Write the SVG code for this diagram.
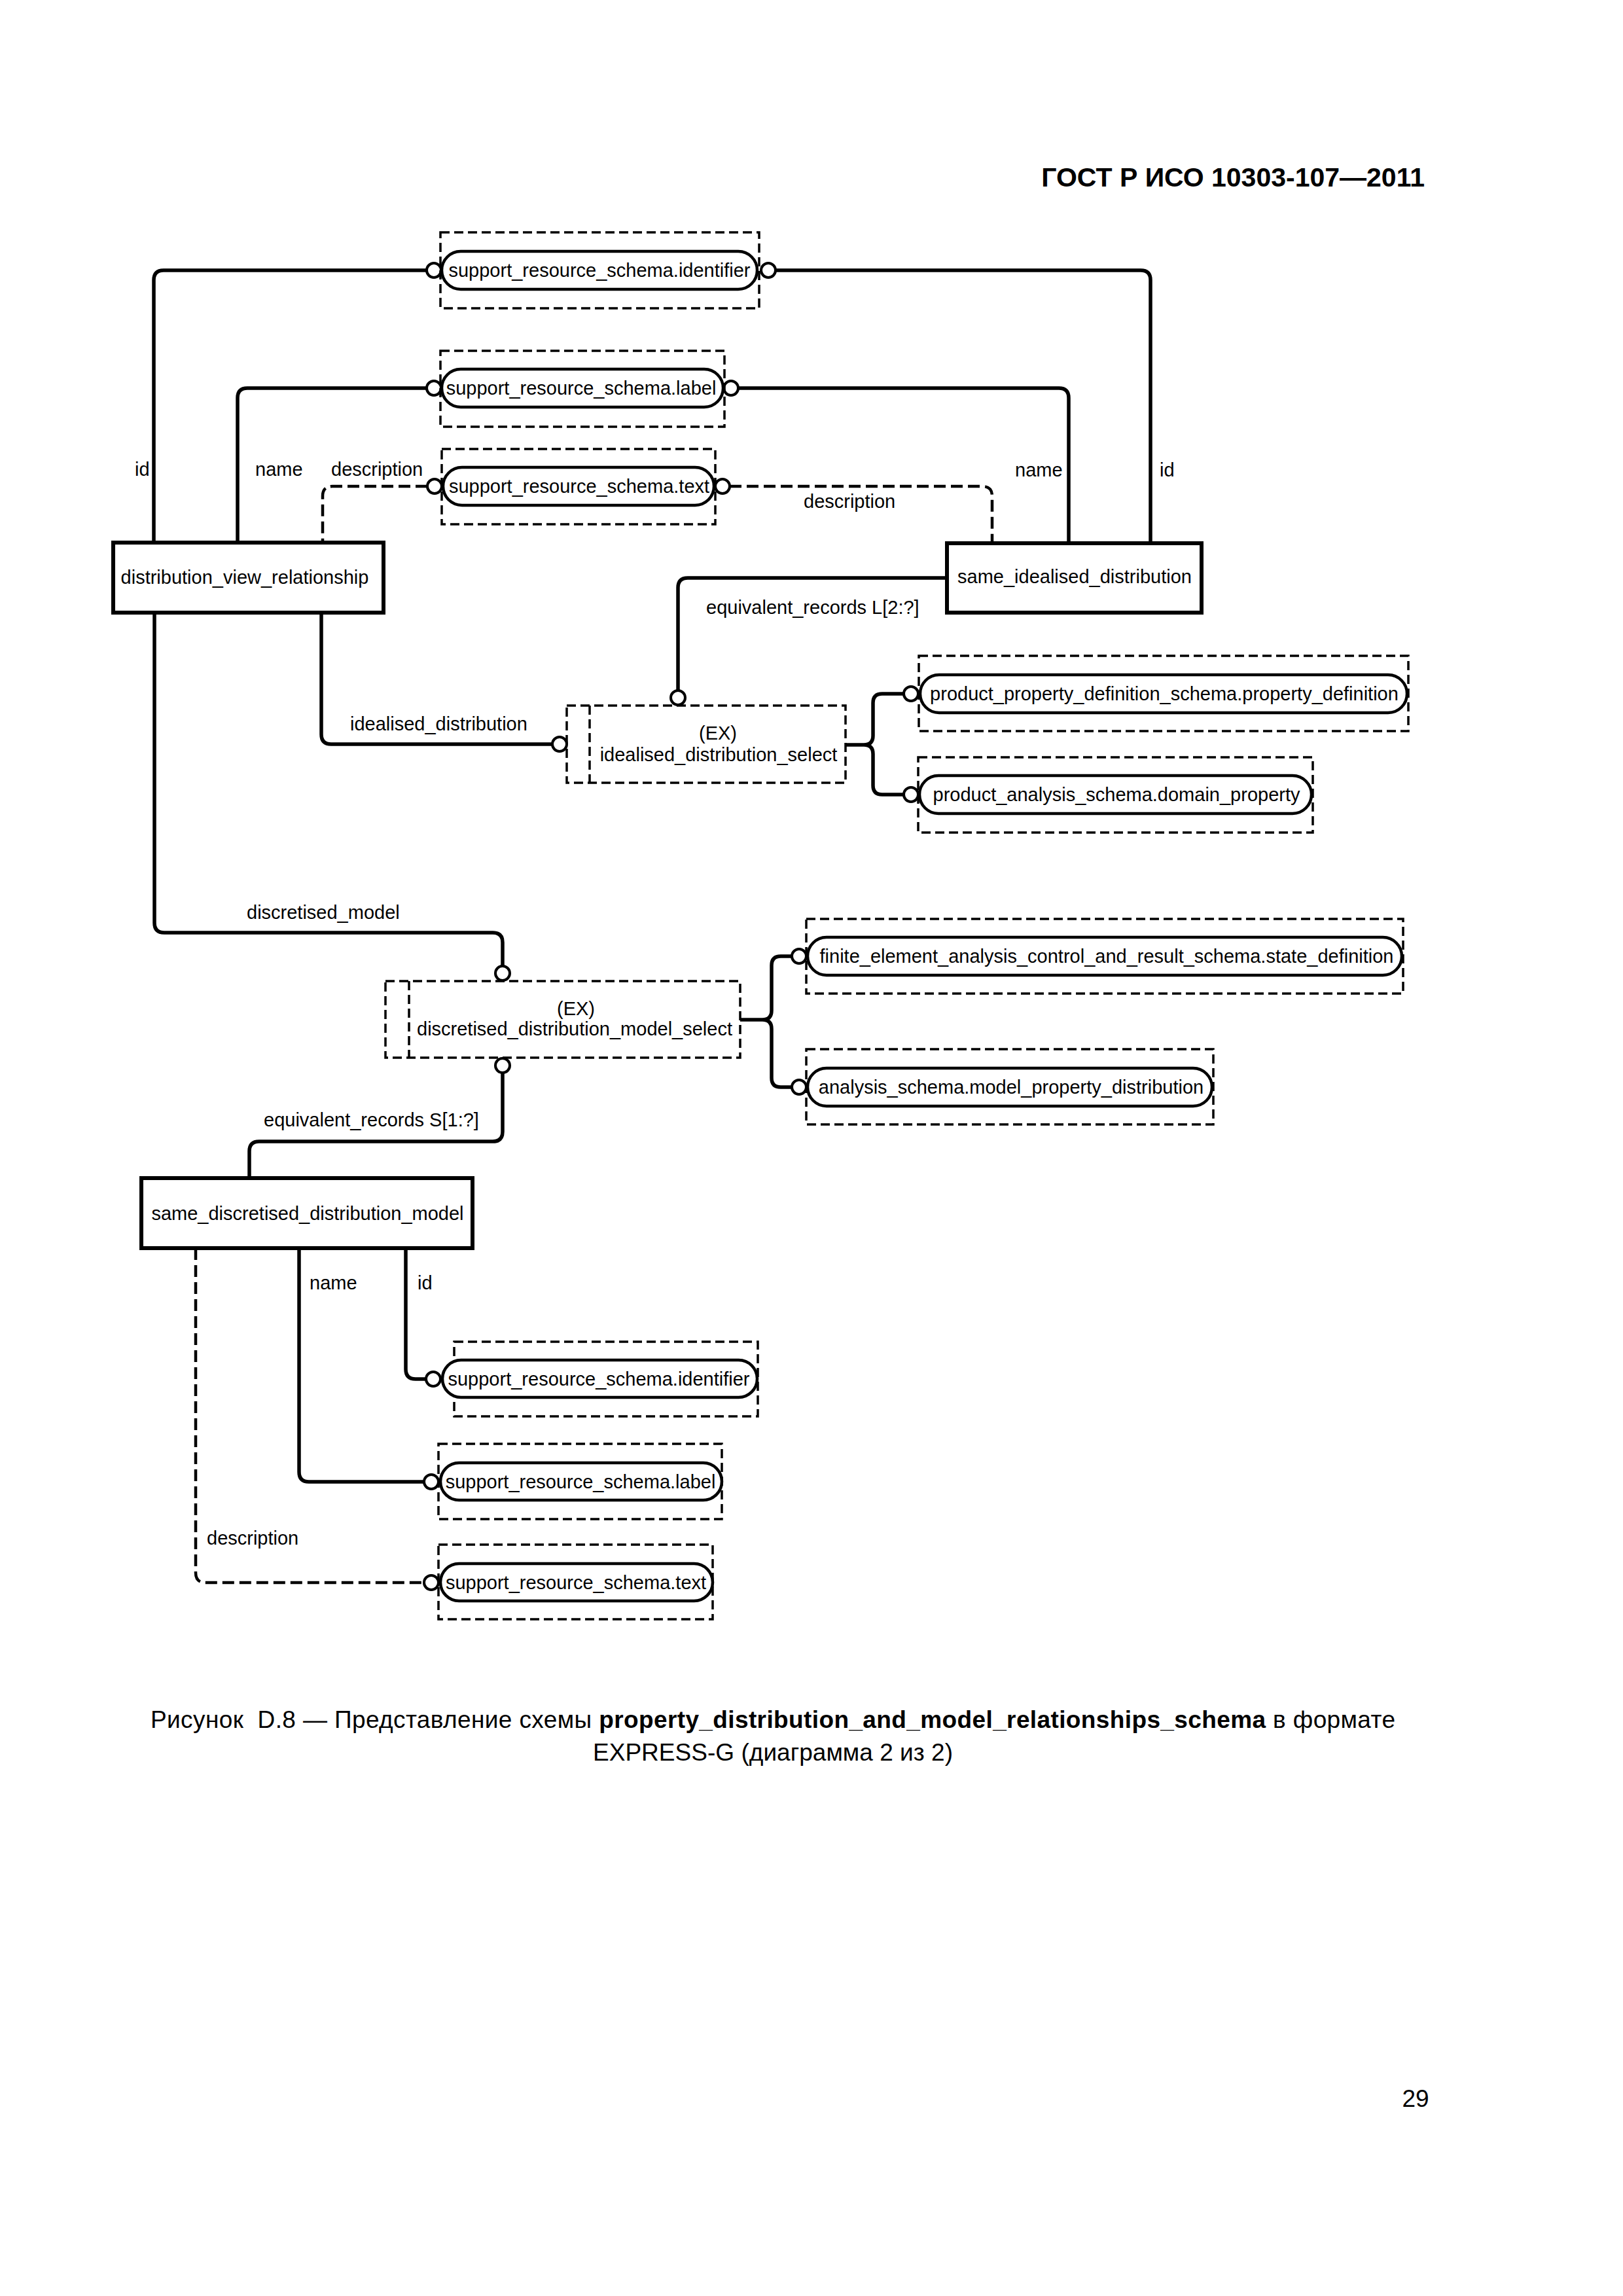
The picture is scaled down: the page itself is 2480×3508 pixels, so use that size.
<svg xmlns="http://www.w3.org/2000/svg" width="2480" height="3508" viewBox="0 0 2480 3508">
<style>
text{font-family:"Liberation Sans",Arial,sans-serif;fill:#000}
.t{font-size:29px}
.m{text-anchor:middle}
.ent{fill:#fff;stroke:#000;stroke-width:6}
.pill{fill:#fff;stroke:#000;stroke-width:4.5}
.dbox{fill:none;stroke:#000;stroke-width:3.5;stroke-dasharray:14 7}
.c{fill:none;stroke:#000;stroke-width:5.5}
.cd{fill:none;stroke:#000;stroke-width:4.5;stroke-dasharray:18 8}
.o{fill:#fff;stroke:#000;stroke-width:4}
.cap{font-size:37px}
</style>
<rect width="2480" height="3508" fill="#fff"/>
<text x="2177" y="285" font-size="41" font-weight="bold" text-anchor="end">ГОСТ Р ИСО 10303-107—2011</text>

<g id="connectors">
<path class="c" d="M652 413 H250 Q235 413 235 428 V829"/>
<path class="c" d="M1185 413 H1743 Q1758 413 1758 428 V830"/>
<path class="c" d="M652 593 H378 Q363 593 363 608 V829"/>
<path class="c" d="M1128 593 H1618 Q1633 593 1633 608 V830"/>
<path class="cd" d="M653 743 H508 Q493 743 493 758 V829"/>
<path class="cd" d="M1115 743 H1501 Q1516 743 1516 758 V830"/>
<path class="c" d="M1447 883 H1051 Q1036 883 1036 898 V1054"/>
<path class="c" d="M491 936 V1122 Q491 1137 506 1137 H844"/>
<path class="c" d="M1292 1138 H1320 Q1334 1138 1334 1124 V1074 Q1334 1060 1348 1060 H1381 M1320 1138 Q1334 1138 1334 1152 V1200 Q1334 1214 1348 1214 H1381"/>
<path class="c" d="M236 936 V1410 Q236 1425 251 1425 H753 Q768 1425 768 1440 V1476"/>
<path class="c" d="M768 1639 V1729 Q768 1744 753 1744 H396 Q381 1744 381 1759 V1800"/>
<path class="c" d="M1131 1558 H1165 Q1179 1558 1179 1544 V1475 Q1179 1461 1193 1461 H1210 M1165 1558 Q1179 1558 1179 1572 V1647 Q1179 1661 1193 1661 H1210"/>
<path class="c" d="M620 1907 V2092 Q620 2107 635 2107 H651"/>
<path class="c" d="M457 1907 V2249 Q457 2264 472 2264 H648"/>
<path class="cd" d="M299 1907 V2403 Q299 2418 314 2418 H648"/>
<circle class="o" cx="663" cy="413" r="11"/>
<circle class="o" cx="1174" cy="413" r="11"/>
<circle class="o" cx="663" cy="593" r="11"/>
<circle class="o" cx="1117" cy="593" r="11"/>
<circle class="o" cx="664" cy="743" r="11"/>
<circle class="o" cx="1104" cy="743" r="11"/>
<circle class="o" cx="1036" cy="1066" r="11"/>
<circle class="o" cx="855" cy="1137" r="11"/>
<circle class="o" cx="1392" cy="1060" r="11"/>
<circle class="o" cx="1392" cy="1214" r="11"/>
<circle class="o" cx="768" cy="1487" r="11"/>
<circle class="o" cx="768" cy="1628" r="11"/>
<circle class="o" cx="1221" cy="1461" r="11"/>
<circle class="o" cx="1221" cy="1661" r="11"/>
<circle class="o" cx="662" cy="2107" r="11"/>
<circle class="o" cx="659" cy="2264" r="11"/>
<circle class="o" cx="659" cy="2418" r="11"/>
<text class="t" x="206" y="727">id</text>
<text class="t" x="390" y="727">name</text>
<text class="t" x="506" y="727">description</text>
<text class="t" x="1551" y="728">name</text>
<text class="t" x="1772" y="728">id</text>
<text class="t" x="1228" y="776">description</text>
<text class="t" x="1079" y="938">equivalent_records L[2:?]</text>
<text class="t" x="535" y="1116">idealised_distribution</text>
<text class="t" x="377" y="1404">discretised_model</text>
<text class="t" x="403" y="1721">equivalent_records S[1:?]</text>
<text class="t" x="473" y="1970">name</text>
<text class="t" x="638" y="1970">id</text>
<text class="t" x="316" y="2360">description</text>
</g>

<g id="srs_identifier_top">
<rect class="dbox" x="673" y="355" width="487" height="116"/>
<rect class="pill" x="675" y="384" width="482" height="58" rx="29"/>
<text class="t m" x="916" y="423">support_resource_schema.identifier</text>
</g>
<g id="srs_label_top">
<rect class="dbox" x="673" y="536" width="434" height="116"/>
<rect class="pill" x="675" y="564" width="430" height="58" rx="29"/>
<text class="t m" x="888" y="603">support_resource_schema.label</text>
</g>
<g id="srs_text_top">
<rect class="dbox" x="675" y="686" width="418" height="115"/>
<rect class="pill" x="677" y="714" width="414" height="58" rx="29"/>
<text class="t m" x="885" y="753">support_resource_schema.text</text>
</g>
<g id="distribution_view_relationship">
<rect class="ent" x="173" y="829" width="413" height="107"/>
<text class="t m" x="374" y="892">distribution_view_relationship</text>
</g>
<g id="same_idealised_distribution">
<rect class="ent" x="1447" y="830" width="389" height="106"/>
<text class="t m" x="1642" y="891">same_idealised_distribution</text>
</g>
<g id="idealised_distribution_select">
<rect class="dbox" x="866" y="1078" width="426" height="118"/>
<line class="dbox" x1="901" y1="1078" x2="901" y2="1196"/>
<text class="t m" x="1097" y="1130">(EX)</text>
<text class="t m" x="1098" y="1163">idealised_distribution_select</text>
</g>
<g id="ppd_property_definition">
<rect class="dbox" x="1404" y="1002" width="748" height="115"/>
<rect class="pill" x="1406" y="1031" width="744" height="58" rx="29"/>
<text class="t m" x="1779" y="1070">product_property_definition_schema.property_definition</text>
</g>
<g id="pas_domain_property">
<rect class="dbox" x="1403" y="1157" width="603" height="115"/>
<rect class="pill" x="1405" y="1185" width="599" height="58" rx="29"/>
<text class="t m" x="1706" y="1224">product_analysis_schema.domain_property</text>
</g>
<g id="discretised_distribution_model_select">
<rect class="dbox" x="589" y="1499" width="542" height="117"/>
<line class="dbox" x1="625" y1="1499" x2="625" y2="1616"/>
<text class="t m" x="880" y="1551">(EX)</text>
<text class="t m" x="878" y="1582">discretised_distribution_model_select</text>
</g>
<g id="fea_state_definition">
<rect class="dbox" x="1232" y="1404" width="912" height="114"/>
<rect class="pill" x="1234" y="1432" width="908" height="58" rx="29"/>
<text class="t m" x="1691" y="1471">finite_element_analysis_control_and_result_schema.state_definition</text>
</g>
<g id="as_model_property_distribution">
<rect class="dbox" x="1232" y="1603" width="622" height="115"/>
<rect class="pill" x="1234" y="1632" width="618" height="58" rx="29"/>
<text class="t m" x="1545" y="1671">analysis_schema.model_property_distribution</text>
</g>
<g id="same_discretised_distribution_model">
<rect class="ent" x="216" y="1800" width="506" height="107"/>
<text class="t m" x="470" y="1864">same_discretised_distribution_model</text>
</g>
<g id="srs_identifier_bottom">
<rect class="dbox" x="694" y="2050" width="464" height="114"/>
<rect class="pill" x="676" y="2078" width="481" height="57" rx="28.5"/>
<text class="t m" x="915" y="2117">support_resource_schema.identifier</text>
</g>
<g id="srs_label_bottom">
<rect class="dbox" x="670" y="2206" width="433" height="115"/>
<rect class="pill" x="673" y="2235" width="430" height="57" rx="28.5"/>
<text class="t m" x="887" y="2274">support_resource_schema.label</text>
</g>
<g id="srs_text_bottom">
<rect class="dbox" x="670" y="2360" width="419" height="114"/>
<rect class="pill" x="673" y="2389" width="416" height="57" rx="28.5"/>
<text class="t m" x="880" y="2428">support_resource_schema.text</text>
</g>

<text class="cap" x="230" y="2640" textLength="1902" lengthAdjust="spacing" xml:space="preserve">Рисунок  D.8 — Представление схемы <tspan font-weight="bold">property_distribution_and_model_relationships_schema</tspan> в формате</text>
<text class="cap" x="906" y="2690" textLength="550" lengthAdjust="spacing">EXPRESS-G (диаграмма 2 из 2)</text>
<text class="cap" x="2163" y="3219" text-anchor="middle">29</text>
</svg>
